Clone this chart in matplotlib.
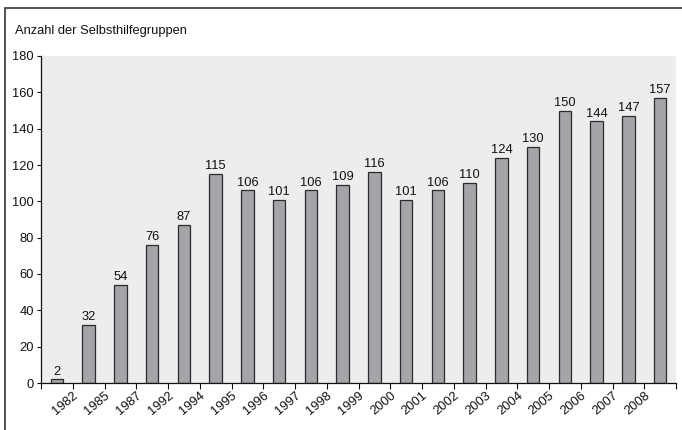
import matplotlib
matplotlib.use("Agg")
import matplotlib.pyplot as plt
from matplotlib.patches import Rectangle
import numpy as np

plt.rcParams['font.family'] = ['Liberation Sans', 'DejaVu Sans']

values = [2, 32, 54, 76, 87, 115, 106, 101, 106, 109, 116, 101, 106, 110, 124, 130, 150, 144, 147, 157]
tick_labels = ["1982", "1985", "1987", "1992", "1994", "1995", "1996", "1997", "1998", "1999",
               "2000", "2001", "2002", "2003", "2004", "2005", "2006", "2007", "2008"]
y_title = "Anzahl der Selbsthilfegruppen"

FS = 9.3
fig = plt.figure(figsize=(6.82, 4.30), dpi=100)
# outer frame (only top and left visible)
fig.patches.append(Rectangle((5/682, -0.05), 1.2, 1 - 8/430 + 0.05, transform=fig.transFigure,
                             fill=False, edgecolor='#333333', linewidth=1.2, clip_on=False))

ax = fig.add_axes([41/682, 1 - 383/430, 635/682, (383 - 56)/430])
ax.set_facecolor('#ededed')
x = np.arange(len(values))
ax.bar(x, values, width=0.4, color='#a5a5a9', edgecolor='#2b2b2b', linewidth=0.9, zorder=2)
for xi, v in zip(x, values):
    ax.text(xi, v + 1.0, str(v), ha='center', va='bottom', fontsize=FS, color='#111111')

ax.set_xlim(-0.5, len(values) - 0.5)
ax.set_ylim(0, 180)
ax.set_yticks(np.arange(0, 181, 20))
ax.tick_params(axis='y', labelsize=FS, length=3, width=0.8, pad=2, colors='#111111')

ax.set_xticks(np.arange(-0.5, len(values), 1.0), minor=False)
ax.set_xticklabels([""] + tick_labels + [""])
ax.tick_params(axis='x', length=4, width=0.8, labelsize=FS, pad=1, colors='#111111')
for lbl in ax.get_xticklabels():
    lbl.set_rotation(40)
    lbl.set_ha('right')
    lbl.set_rotation_mode('anchor')

for side in ['top', 'right']:
    ax.spines[side].set_visible(False)
for side in ['left', 'bottom']:
    ax.spines[side].set_color('#111111')
    ax.spines[side].set_linewidth(0.9)

fig.text(15/682, 1 - 31/430, y_title, fontsize=FS, ha='left', va='center', color='#111111')

fig.savefig('out.png', dpi=100)
